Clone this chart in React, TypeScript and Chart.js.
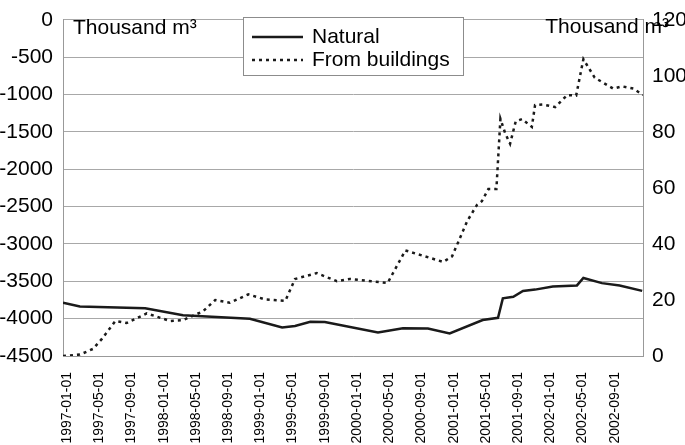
import { useEffect, useRef } from 'react';
import { Chart, registerables } from 'chart.js';

Chart.register(...registerables);

const FONT = '"Liberation Sans", Arial, Helvetica, sans-serif';

const tickLabels = [
  '1997-01-01', '1997-05-01', '1997-09-01',
  '1998-01-01', '1998-05-01', '1998-09-01',
  '1999-01-01', '1999-05-01', '1999-09-01',
  '2000-01-01', '2000-05-01', '2000-09-01',
  '2001-01-01', '2001-05-01', '2001-09-01',
  '2002-01-01', '2002-05-01', '2002-09-01',
];
// months after 1997-01 for each tick label
const tickMonths = [0, 4, 8, 12, 16, 20, 24, 28, 32, 36, 40, 44, 48, 52, 56, 60, 64, 68];

// Natural (left axis, thousand m3)
const naturalMonths = [
  -0.5, 1.6, 9.7, 14.4, 22.7, 26.7, 28.3, 30.2, 32.0, 38.6, 41.7, 44.8, 47.5,
  51.6, 53.5, 54.1, 55.4, 56.6, 58.1, 60.3, 63.3, 64.1, 66.4, 68.6, 71.4,
];
const naturalValues = [
  -3785, -3836, -3862, -3953, -4001, -4119, -4097, -4041, -4045, -4184, -4127, -4132, -4197,
  -4019, -3989, -3728, -3706, -3628, -3611, -3568, -3555, -3455, -3524, -3555, -3628,
];

// From buildings (right axis, thousand m3)
const buildingsMonths = [
  -0.5, 1.6, 3.2, 4.3, 6.0, 7.4, 9.9, 12.8, 14.4, 16.9, 18.4, 20.2, 22.5, 24.6,
  27.1, 28.3, 31.0, 33.5, 35.1, 39.8, 42.0, 46.7, 47.8, 49.7, 50.9, 51.5, 52.3,
  53.3, 53.8, 54.4, 55.0, 55.7, 56.5, 57.7, 58.1, 59.1, 60.6, 62.1, 63.2, 64.1,
  65.5, 67.8, 68.9, 70.3, 71.5,
];
const buildingsValues = [
  0, 0.5, 2.5, 6, 12.5, 11.8, 15.2, 12.5, 12.8, 16, 20, 19, 22, 20.2,
  19.7, 27.5, 29.6, 26.7, 27.5, 26.1, 37.7, 33.6, 35.6, 48.3, 54, 55.3, 59.6,
  59.6, 84.7, 79.5, 75.8, 83.8, 84.6, 81.8, 89.6, 89.8, 88.9, 93.2, 93, 106,
  99.4, 95.5, 96.3, 95.5, 93.2,
];

const seriesNames = ['Natural', 'From buildings'];
const unitLabel = 'Thousand m³';

const LINE = '#1a1a1a';
const DASH = [3, 4];

const overlayPlugin = {
  id: 'overlayText',
  afterDraw(chart: any) {
    const ctx = chart.ctx as CanvasRenderingContext2D;
    ctx.save();
    ctx.fillStyle = '#000';
    ctx.font = `21px ${FONT}`;
    ctx.textBaseline = 'middle';
    ctx.textAlign = 'left';
    ctx.fillText(unitLabel, 73, 28);
    ctx.textAlign = 'right';
    ctx.fillText(unitLabel, 669, 27);

    // legend box
    const bx = 243.5, by = 17.5, bw = 220, bh = 58;
    ctx.fillStyle = '#fff';
    ctx.fillRect(bx, by, bw, bh);
    ctx.strokeStyle = '#8c8c8c';
    ctx.lineWidth = 1;
    ctx.strokeRect(bx, by, bw, bh);

    const rows = [37, 60];
    ctx.strokeStyle = LINE;
    ctx.lineWidth = 2.5;
    rows.forEach((yy, i) => {
      ctx.setLineDash(i === 1 ? DASH : []);
      ctx.beginPath();
      ctx.moveTo(252, yy);
      ctx.lineTo(303, yy);
      ctx.stroke();
    });
    ctx.setLineDash([]);
    ctx.fillStyle = '#000';
    ctx.textAlign = 'left';
    ctx.font = `21px ${FONT}`;
    rows.forEach((yy, i) => ctx.fillText(seriesNames[i], 312, yy));
    ctx.restore();
  },
};

export default function App() {
  const ref = useRef<HTMLCanvasElement | null>(null);

  useEffect(() => {
    if (!ref.current) return;
    Chart.defaults.font.family = FONT;
    Chart.defaults.color = '#000';
    const chart = new Chart(ref.current, {
      type: 'line',
      data: {
        datasets: [
          {
            label: seriesNames[0],
            data: naturalMonths.map((m, i) => ({ x: m, y: naturalValues[i] })),
            yAxisID: 'y',
            borderColor: LINE,
            borderWidth: 2.5,
            pointRadius: 0,
            tension: 0,
            fill: false,
          },
          {
            label: seriesNames[1],
            data: buildingsMonths.map((m, i) => ({ x: m, y: buildingsValues[i] })),
            yAxisID: 'y1',
            borderColor: LINE,
            borderWidth: 2.5,
            borderDash: DASH,
            pointRadius: 0,
            tension: 0,
            fill: false,
          },
        ],
      },
      options: {
        responsive: false,
        animation: false,
        layout: { padding: { top: 10, left: 0, right: 0, bottom: 0 } },
        plugins: {
          legend: { display: false },
          tooltip: { enabled: false },
        },
        scales: {
          x: {
            type: 'linear',
            min: -0.5,
            max: 71.5,
            afterBuildTicks: (s: any) => {
              s.ticks = tickMonths.map((v) => ({ value: v }));
            },
            afterFit: (s: any) => {
              s.height = 89;
            },
            ticks: {
              autoSkip: false,
              minRotation: 90,
              maxRotation: 90,
              padding: 16,
              color: '#000',
              font: { size: 14, family: FONT },
              callback: (_v: any, i: number) => tickLabels[i],
            },
            grid: { display: false, drawTicks: false },
            border: { display: true, color: '#999', width: 1 },
          },
          y: {
            position: 'left',
            min: -4500,
            max: 0,
            afterFit: (s: any) => {
              s.width = 63;
            },
            ticks: {
              stepSize: 500,
              padding: 10,
              color: '#000',
              font: { size: 21, family: FONT, lineHeight: 0.95 },
              callback: (v: any) => String(v),
            },
            grid: { color: '#a8a8a8', lineWidth: 1, drawTicks: false },
            border: { display: true, color: '#999', width: 1 },
          },
          y1: {
            position: 'right',
            min: 0,
            max: 120,
            afterFit: (s: any) => {
              s.width = 42;
            },
            ticks: {
              stepSize: 20,
              padding: 9,
              color: '#000',
              font: { size: 21, family: FONT, lineHeight: 0.95 },
              callback: (v: any) => String(v),
            },
            grid: { display: false, drawTicks: false },
            border: { display: true, color: '#999', width: 1 },
          },
        },
      },
      plugins: [overlayPlugin],
    } as any);
    return () => chart.destroy();
  }, []);

  return (
    <div style={{ position: 'fixed', left: 0, top: 0, width: 685, height: 445, background: '#fff' }}>
      <canvas ref={ref} width={685} height={445} style={{ display: 'block', width: 685, height: 445 }} />
    </div>
  );
}
